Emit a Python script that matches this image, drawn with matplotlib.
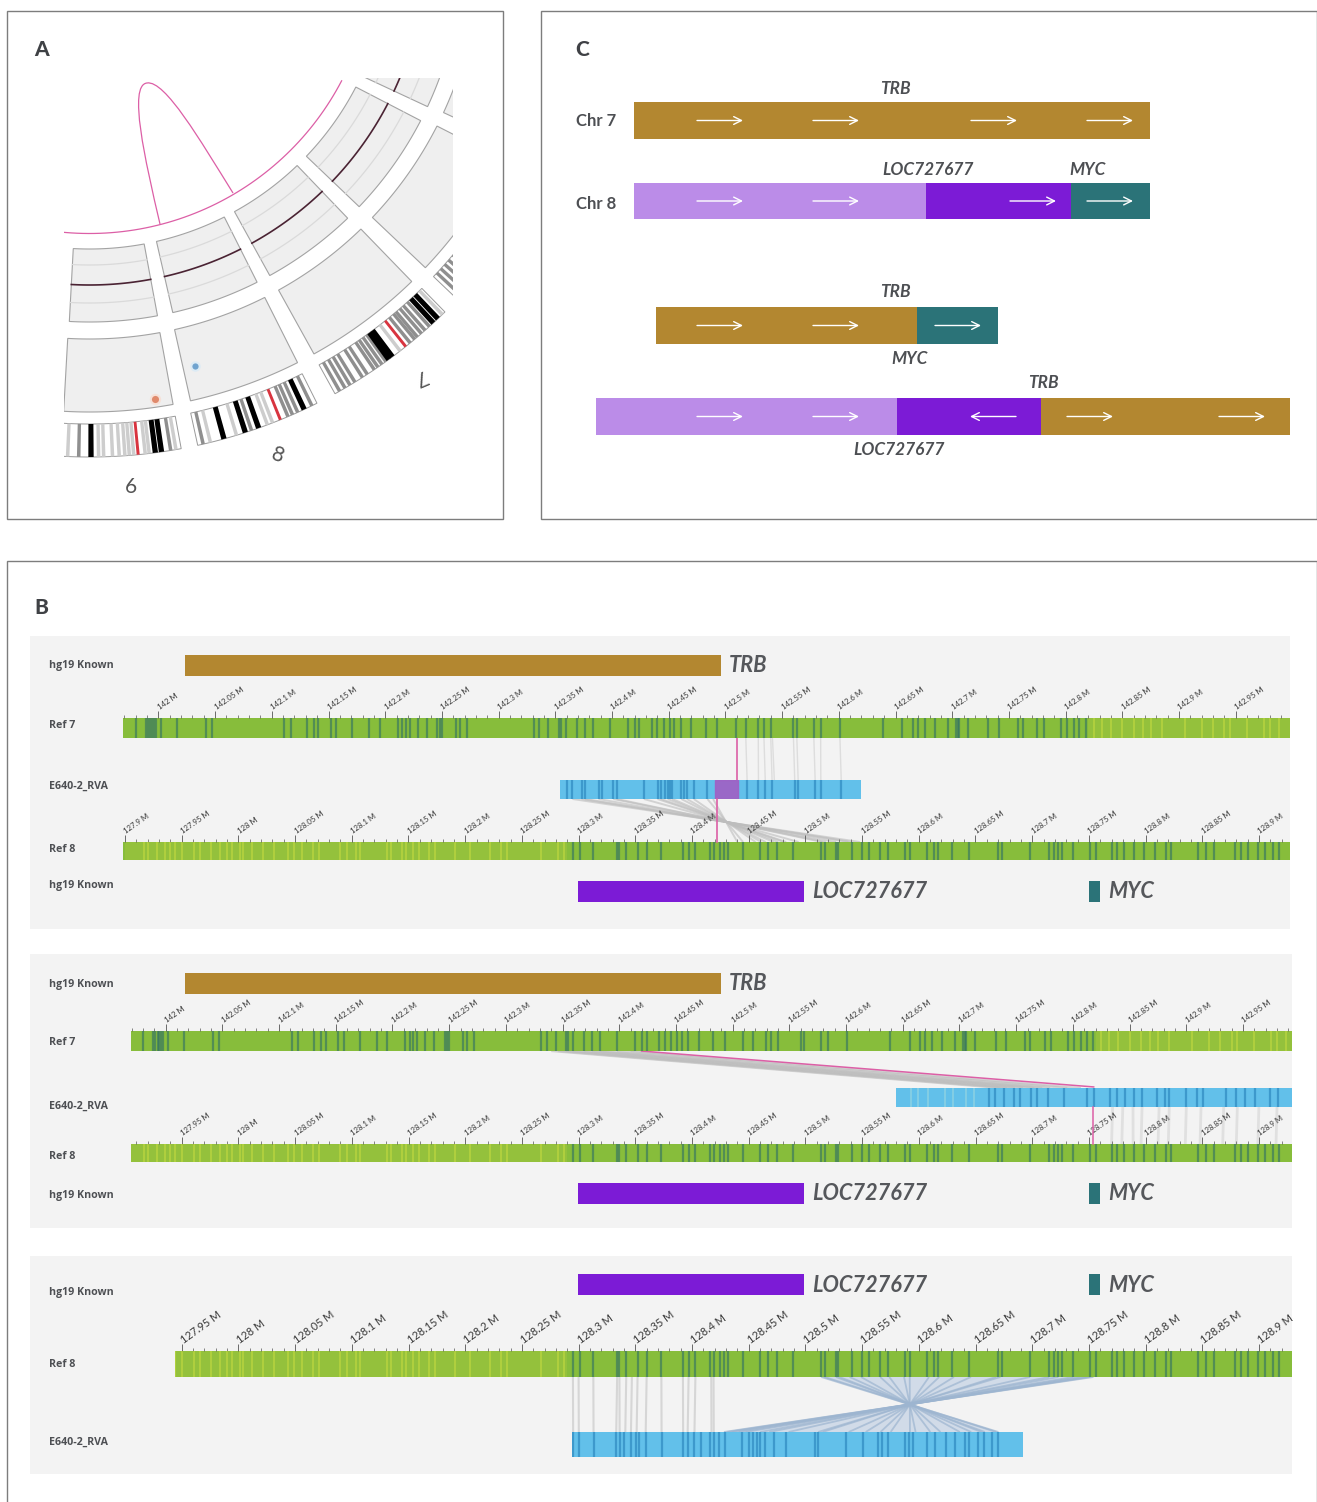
#!/usr/bin/env python3

"""
Structural variant figure: circos detail (A), alignment tracks (B), gene fusion schematic (C)
"""

import numpy as np
import matplotlib
matplotlib.use("Agg")
import matplotlib.pyplot as plt
from matplotlib.patches import Polygon, Rectangle
from matplotlib.path import Path
from matplotlib.patches import PathPatch

W, H = 1317, 1502
PX_PER_MB = 1134.0

GOLD = "#b38730"
PURPLE = "#7c1bd6"
LILAC = "#bb8ce8"
TEAL = "#2b7378"
PINK = "#dc5fa6"
TEXT = "#4d4f53"

# --- panel A: angles in degrees from straight down, around the circos centre
chr6_black = [0.17, 7.45, 8.15]
chr6_grey = [-1.22, 9.2]
chr6_light = [-2.47, 1.03, 1.6, 2.6, 3.36, 4.0, 4.5, 5.0, 6.3, 6.75, 9.8]
chr6_red = [5.5]
chr8_black = [15.35, 17.87, 19.45, 25.0]
chr8_grey = [12.93, 18.6, 23.0, 23.55, 24.2, 25.96]
chr8_light = [13.77, 16.82, 20.5, 21.13]
chr8_red = [22.07]
chr7_black = [36.1, 36.6, 42.6, 43.3]
chr7_grey = [29.5, 30.2, 30.85, 31.5, 32.5, 33.15, 34.1, 34.6, 35.15, 35.7, 39.15, 39.8, 40.2,
             40.8, 41.35, 42.0]
chr7_light = [37.7, 44.0]
chr7_red = [38.5]
chr_next_grey = [47.0, 47.7, 48.4, 49.1, 49.9, 50.7]
inner_sectors = [(-3.1, 10.5), (12.9, 26.7), (28.9, 43.8), (46.3, 62.6), (65.0, 80)]
outer_sectors = [(-3.2, 10.4), (12.6, 26.7), (29.0, 44.1), (46.5, 63.0), (65.2, 80)]

# --- panel B: genomic positions in Mb
ref7_dark = [141.980, 141.989, 141.991, 141.993, 141.994, 141.996, 141.998, 142.002, 142.016,
             142.042, 142.047, 142.111, 142.117, 142.131, 142.137, 142.141, 142.152, 142.157,
             142.171, 142.186, 142.195, 142.211, 142.215, 142.218, 142.222, 142.229, 142.237,
             142.246, 142.248, 142.250, 142.262, 142.266, 142.272, 142.331, 142.336, 142.344,
             142.353, 142.355, 142.359, 142.369, 142.376, 142.383, 142.398, 142.414, 142.420,
             142.424, 142.435, 142.440, 142.446, 142.451, 142.455, 142.461, 142.470, 142.483,
             142.493, 142.509, 142.518, 142.529, 142.534, 142.540, 142.560, 142.563, 142.578,
             142.584, 142.601, 142.639, 142.656, 142.665, 142.670, 142.676, 142.685, 142.696,
             142.703, 142.705, 142.706, 142.714, 142.732, 142.741, 142.758, 142.762, 142.775,
             142.781, 142.796, 142.801, 142.807, 142.812, 142.818]
ref7_yellow = [142.825, 142.832, 142.84, 142.85, 142.86, 142.868, 142.875, 142.885, 142.905,
               142.92, 142.93, 142.94, 142.945, 142.96, 142.975, 142.98, 142.988]
ref7_yellow_zone = [142.82, 143.0]
ref8_dark = [128.295, 128.301, 128.313, 128.334, 128.336, 128.342, 128.352, 128.360, 128.373,
             128.392, 128.397, 128.403, 128.416, 128.419, 128.425, 128.428, 128.432, 128.445,
             128.460, 128.467, 128.475, 128.489, 128.514, 128.517, 128.527, 128.529, 128.541,
             128.550, 128.556, 128.566, 128.573, 128.588, 128.592, 128.607, 128.613, 128.617,
             128.629, 128.644, 128.670, 128.673, 128.698, 128.715, 128.719, 128.723, 128.726,
             128.736, 128.751, 128.756, 128.770, 128.775, 128.781, 128.790, 128.799, 128.808,
             128.818, 128.822, 128.846, 128.853, 128.860, 128.879, 128.884, 128.890, 128.899,
             128.905, 128.912, 128.918]
ref8_yellow = [127.917, 127.920, 127.928, 127.935, 127.94, 127.944, 127.950, 127.961, 127.966,
               127.976, 127.984, 127.990, 127.994, 128.001, 128.004, 128.012, 128.022, 128.031,
               128.044, 128.049, 128.056, 128.066, 128.071, 128.090, 128.096, 128.104, 128.107,
               128.131, 128.135, 128.144, 128.148, 128.154, 128.159, 128.168, 128.173, 128.191,
               128.204, 128.222, 128.232, 128.237, 128.267, 128.282, 128.287]
ref8_yellow_zone = [127.9, 128.29]
ref7_ticks = [142, 142.05, 142.1, 142.15, 142.2, 142.25, 142.3, 142.35, 142.4, 142.45, 142.5,
              142.55, 142.6, 142.65, 142.7, 142.75, 142.8, 142.85, 142.9, 142.95]
ref8_ticks = [127.9, 127.95, 128, 128.05, 128.1, 128.15, 128.2, 128.25, 128.3, 128.35, 128.4,
              128.45, 128.5, 128.55, 128.6, 128.65, 128.7, 128.75, 128.8, 128.85, 128.9]

# contig positions in kb from the contig start
contig1_len = 265
contig1_dark = [6, 11, 19, 22, 34, 37, 47, 50, 74, 86, 89, 93, 95, 97, 99, 107, 109, 112, 118,
                130, 165, 175, 181, 187, 207, 210, 225, 230, 248]
contig2_len = 349
contig2_dark = [82, 87, 95, 104, 109, 119, 124, 134, 148, 168, 175, 189, 195, 202, 210, 217, 230,
                237, 241, 256, 265, 271, 291, 300, 308, 317, 330, 337]
contig2_yellow = [13, 19, 28, 43, 50, 62, 69]
contig3_len = 398
contig3_dark = [1, 6, 19, 39, 42, 46, 52, 56, 59, 65, 79, 98, 102, 108, 114, 122, 125, 130, 135,
                150, 156, 160, 163, 166, 170, 178, 189, 214, 217, 242, 257, 270, 273, 279, 294,
                297, 301, 313, 320, 330, 338, 347, 350, 358, 363, 370, 376]

# alignments, ref position against contig position
b1_ref7 = [142.518, 142.529, 142.534, 142.540, 142.5415, 142.560, 142.563, 142.578, 142.584, 142.601]
b1_contig_up = [165, 175, 181, 187, 189, 207, 210, 225, 230, 248]
b1_contig_inv = [11, 19, 22, 34, 47, 50, 74, 86, 89, 95, 99, 107, 112, 118, 130, 135]
b1_ref8_inv = [128.548, 128.541, 128.538, 128.527, 128.518, 128.515, 128.494, 128.483, 128.481,
               128.476, 128.472, 128.465, 128.461, 128.456, 128.445, 128.440]
b2_ref7 = [142.340, 142.346, 142.353, 142.359, 142.369, 142.376, 142.383, 142.398, 142.410]
b2_contig = [92, 98, 105, 112, 122, 129, 136, 151, 163]
b2_ref8 = [128.770, 128.779, 128.789, 128.796, 128.811, 128.820, 128.835, 128.848, 128.868,
           128.880, 128.899, 128.915]
b2_contig_down = [191, 200, 209, 217, 232, 241, 256, 269, 289, 301, 320, 336]
b3_ref8 = [128.295, 128.300, 128.313, 128.334, 128.336, 128.342, 128.347, 128.352, 128.360,
           128.373, 128.392, 128.397, 128.403, 128.417, 128.419]
b3_contig = [1, 6, 19, 39, 42, 47, 52, 57, 65, 79, 98, 102, 108, 123, 125]
b3_ref8_inv = [128.514, 128.517, 128.527, 128.530, 128.539, 128.549, 128.566, 128.574, 128.587,
               128.592, 128.609, 128.618, 128.631, 128.646, 128.668, 128.672, 128.698, 128.715,
               128.723, 128.736, 128.742, 128.748, 128.751, 128.754]
b3_contig_inv = [376, 374, 364, 361, 352, 342, 325, 316, 303, 298, 281, 272, 259, 244, 221, 217,
                 191, 174, 166, 153, 147, 141, 137, 134]

# --- panel C: segment lengths, and arrow starts
row1_lengths = [516]
row2_lengths = [292, 145, 79]
row3_lengths = [261, 81]
row4_lengths = [301, 144, 249]
row1_arrows = [697, 813, 971, 1087]
row2_arrows = [697, 813, 1010, 1087]
row3_arrows = [697, 813, 935]
row4_arrows = [697, 813, 1067, 1219]
row4_back_arrows = [1016]

plt.rcParams["font.family"] = ["Lato", "DejaVu Sans"]
fig = plt.figure(figsize=(W / 100, H / 100), dpi=100, facecolor="white")


def pixel_axes(zorder):
    ax = fig.add_axes([0, 0, 1, 1], zorder=zorder)
    ax.set_xlim(0, W)
    ax.set_ylim(H, 0)
    ax.axis("off")
    return ax


bg = pixel_axes(0)
fg = pixel_axes(5)

# panel frames
for x0, y0, x1, y1 in [(7, 11, 503, 519), (541, 11, 1317, 519), (7, 561, 1317, 1510)]:
    bg.add_patch(Rectangle((x0, y0), x1 - x0, y1 - y0, fc="white", ec="#7d7d7d", lw=1))
for x0, y0, x1, y1 in [(30, 636, 1290, 929), (30, 954, 1292, 1228), (30, 1256, 1292, 1474)]:
    bg.add_patch(Rectangle((x0, y0), x1 - x0, y1 - y0, fc="#f3f3f3", ec="none"))
for txt, x, y in [("A", 42, 49), ("C", 582, 49), ("B", 41, 608)]:
    fg.text(x, y, txt, fontsize=15, fontweight="black", color="#3f4145", ha="center", va="center")

# ---- panel A
CX, CY = 89.5, -51
clip_a = Rectangle((64, 78), 389, 380, transform=fg.transData)


def sector(t0, t1, r0, r1, **kw):
    t = np.radians(np.linspace(t0, t1, 40))
    xs = np.r_[CX + r0 * np.sin(t), CX + r1 * np.sin(t[::-1])]
    ys = np.r_[CY + r0 * np.cos(t), CY + r1 * np.cos(t[::-1])]
    p = Polygon(np.c_[xs, ys], closed=True, **kw)
    fg.add_patch(p)
    p.set_clip_path(clip_a)


def arc(t0, t1, r, **kw):
    t = np.radians(np.linspace(t0, t1, 60))
    line, = fg.plot(CX + r * np.sin(t), CY + r * np.cos(t), **kw)
    line.set_clip_path(clip_a)


for t0, t1 in inner_sectors:
    sector(t0, t1, 300, 373, fc="#efefef", ec="#a3a3a3", lw=0.8)
    arc(t0, t1, 316, color="#dadada", lw=0.9)
    arc(t0, t1, 354, color="#dadada", lw=0.9)
    arc(t0, t1, 336, color="#4a2333", lw=1.2)
for t0, t1 in outer_sectors:
    sector(t0, t1, 390, 463, fc="#efefef", ec="#a3a3a3", lw=0.8)

ideograms = [(-4, 10.4, chr6_black, chr6_grey, chr6_light, chr6_red),
             (12.3, 26.6, chr8_black, chr8_grey, chr8_light, chr8_red),
             (28.9, 44.4, chr7_black, chr7_grey, chr7_light, chr7_red),
             (46.4, 63.0, [], chr_next_grey, [], [])]
for t0, t1, black, grey, light, red in ideograms:
    sector(t0, t1, 475, 508, fc="white", ec="#9a9a9a", lw=0.7)
    for a in light:
        sector(a - 0.2, a + 0.2, 475, 508, fc="#cdcdcd", ec="none")
    for a in grey:
        sector(a - 0.2, a + 0.2, 475, 508, fc="#8f8f8f", ec="none")
    for a in black:
        sector(a - 0.3, a + 0.3, 475, 508, fc="#000000", ec="none")
    for a in red:
        sector(a - 0.17, a + 0.17, 475, 508, fc="#d8343f", ec="none")

arc(-6, 62.4, 284.5, color=PINK, lw=0.9)
loop = Path([(160, 224), (145, 160), (128, 85), (147, 83), (165, 80), (200, 140), (233, 193)],
            [Path.MOVETO, Path.CURVE4, Path.CURVE4, Path.CURVE4, Path.CURVE4, Path.CURVE4, Path.CURVE4])
fg.add_patch(PathPatch(loop, fc="none", ec=PINK, lw=0.9))

fg.scatter([155], [399], s=44, c="#e08a6c", edgecolors="#f6e1d8", linewidths=1.5)
fg.scatter([195], [366], s=36, c="#6fa3cf", edgecolors="#dcebf5", linewidths=1.5)
fg.text(131, 487, "6", fontsize=15, color="#555555", ha="center", va="center")
fg.text(278, 455, "8", fontsize=15, color="#555555", ha="center", va="center", rotation=-20)
fg.text(420, 377, "7", fontsize=15, color="#555555", ha="center", va="center", rotation=203)


# ---- panel C
def fusion_row(x0, y0, y1, lengths, colors):
    lefts = x0 + np.r_[0, np.cumsum(lengths)[:-1]]
    fg.barh((y0 + y1) / 2, lengths, height=y1 - y0, left=lefts, color=colors, align="center")


def arrows(starts, y, step=46):
    for x in starts:
        fg.annotate("", xy=(x + step, y), xytext=(x, y),
                    arrowprops=dict(arrowstyle="->", color="white", lw=1, mutation_scale=14,
                                    shrinkA=0, shrinkB=0))


fusion_row(634, 102, 139, row1_lengths, [GOLD])
fusion_row(634, 183, 219, row2_lengths, [LILAC, PURPLE, TEAL])
fusion_row(656, 307, 344, row3_lengths, [GOLD, TEAL])
fusion_row(596, 398, 435, row4_lengths, [LILAC, PURPLE, GOLD])
arrows(row1_arrows, 120.5)
arrows(row2_arrows, 201)
arrows(row3_arrows, 325.5)
arrows(row4_arrows, 416.5)
arrows(row4_back_arrows, 416.5, step=-46)

for txt, x, y in [("TRB", 895, 89), ("LOC727677", 928, 170), ("MYC", 1088, 170), ("TRB", 895, 292),
                  ("MYC", 910, 359), ("TRB", 1043, 383), ("LOC727677", 899, 450)]:
    fg.text(x, y, txt, fontsize=12.4, fontstyle="italic", fontweight="bold", color=TEXT,
            ha="center", va="center")
for txt, y in [("Chr 7", 121), ("Chr 8", 204)]:
    fg.text(596, y, txt, fontsize=12, fontweight="bold", color=TEXT, ha="center", va="center")


# ---- panel B
def track(x0, x1, y0, y1, lo, hi, color="#87bd3b", dark=(), yellow=(), dark_color="#2f6f66",
          yellow_color="#c6dc40", zone=None, ticks=None, size=5.6, angle=35):
    ax = fig.add_axes([x0 / W, 1 - y1 / H, (x1 - x0) / W, (y1 - y0) / H], zorder=2)
    ax.set_facecolor(color)
    if zone:
        ax.axvspan(zone[0], zone[1], color="#94c13c", lw=0)
    ax.set_xlim(lo, hi)
    ax.set_ylim(0, 1)
    ax.set_yticks([])
    for s in ax.spines.values():
        s.set_visible(False)
    ax.vlines(yellow, 0, 1, color=yellow_color, lw=1.2, alpha=0.65)
    ax.vlines(dark, 0, 1, color=dark_color, lw=1.6, alpha=0.6)
    if ticks is None:
        ax.set_xticks([])
    else:
        shown = [t for t in ticks if lo <= t <= hi]
        ax.xaxis.tick_top()
        ax.set_xticks(shown)
        ax.set_xticklabels([f"{t:g} M" for t in shown], rotation=angle, ha="left", va="center",
                           rotation_mode="anchor", fontsize=size, color="#444444",
                           fontweight="medium")
        ax.set_xticks(np.arange(np.ceil(lo * 100), hi * 100) / 100, minor=True)
        ax.tick_params(axis="x", which="major", length=5, width=0.6, color="#555555", pad=2)
        ax.tick_params(axis="x", which="minor", length=2, width=0.5, color="#555555", top=True)
    return ax


def ref7_x(m, px0):
    return px0 + PX_PER_MB * (np.asarray(m) - 142)


def ref8_x(m):
    return 125 + PX_PER_MB * (np.asarray(m) - 127.9)


def contig_x(kb, x0):
    return x0 + np.asarray(kb) * PX_PER_MB / 1000


def links(xa, ya, xb, yb, color="#b9b9b9", lw=1, alpha=0.7):
    for a, b in zip(xa, xb):
        bg.plot([a, b], [ya, yb], color=color, lw=lw, alpha=alpha, solid_capstyle="butt")


def gene(x0, x1, y0, y1, color, name=None):
    fg.add_patch(Rectangle((x0, y0), x1 - x0, y1 - y0, fc=color, ec="none"))
    if name:
        fg.text(x1 + 8, (y0 + y1) / 2 + 0.5, name, fontsize=15.7, fontstyle="italic", color="#55575b",
                ha="left", va="center", fontweight="bold")


def row_label(y, txt):
    fg.text(49, y + 0.5, txt, fontsize=7.7, fontweight="bold", color=TEXT, ha="left", va="center",
            family=["Open Sans", "DejaVu Sans"])


def ref7_track(x0, x1, y0, y1, px0):
    return track(x0, x1, y0, y1, 142 + (x0 - px0) / PX_PER_MB, 142 + (x1 - px0) / PX_PER_MB,
                 dark=ref7_dark, yellow=ref7_yellow, zone=ref7_yellow_zone, ticks=ref7_ticks)


def ref8_track(x0, x1, y0, y1, **kw):
    return track(x0, x1, y0, y1, 127.9 + (x0 - 125) / PX_PER_MB, 127.9 + (x1 - 125) / PX_PER_MB,
                 dark=ref8_dark, yellow=ref8_yellow, zone=ref8_yellow_zone, ticks=ref8_ticks, **kw)


def contig_track(x0, y0, y1, length, dark, yellow=()):
    x1 = x0 + length * PX_PER_MB / 1000
    return track(x0, x1, y0, y1, 0, length, color="#62c0ea", dark=dark, yellow=yellow,
                 dark_color="#2580b8", yellow_color="#9ed8e0")


# first block
gene(185, 721, 655, 676, GOLD, "TRB")
ref7_track(123, 1290, 718, 738, 158.4)
ax = contig_track(560, 780, 799, contig1_len, contig1_dark)
ax.axvspan(137, 157, color="#a15fc4", alpha=0.9)
ref8_track(123, 1290, 842, 860)
gene(578, 804, 881, 902, PURPLE, "LOC727677")
gene(1089, 1100, 881, 902, TEAL, "MYC")
links(ref7_x(b1_ref7, 158.4), 738, contig_x(b1_contig_up, 560), 780, color="#d4d4d4", lw=1)
links(contig_x(b1_contig_inv, 560), 799, ref8_x(b1_ref8_inv), 842, color="#bdbdbd", lw=1.4, alpha=0.6)
links([737], 738, [737], 780, color=PINK, lw=1.2, alpha=1)
fg.plot([717, 717], [799, 842], color=PINK, lw=1.2)
for y, txt in [(665, "hg19 Known"), (725, "Ref 7"), (786, "E640-2_RVA"), (849, "Ref 8"), (885, "hg19 Known")]:
    row_label(y, txt)

# second block
gene(185, 721, 973, 994, GOLD, "TRB")
ref7_track(131, 1292, 1031, 1051, 165.7)
contig_track(896, 1088, 1107, contig2_len, contig2_dark, contig2_yellow)
ref8_track(131, 1292, 1144, 1162)
gene(578, 804, 1183, 1204, PURPLE, "LOC727677")
gene(1089, 1100, 1183, 1204, TEAL, "MYC")
links(ref7_x(b2_ref7, 165.7), 1051, contig_x(b2_contig, 896), 1088, color="#bcbcbc", lw=1.6, alpha=0.6)
links(ref7_x([142.419], 165.7), 1051, contig_x([175], 896), 1087, color=PINK, lw=1.1, alpha=1)
links(ref8_x(b2_ref8), 1144, contig_x(b2_contig_down, 896), 1107, color="#dcdcdc", lw=2, alpha=0.8)
fg.plot([1093, 1093], [1107, 1144], color=PINK, lw=1.1)
for y, txt in [(984, "hg19 Known"), (1042, "Ref 7"), (1106, "E640-2_RVA"), (1156, "Ref 8"), (1195, "hg19 Known")]:
    row_label(y, txt)

# third block
gene(578, 804, 1274, 1295, PURPLE, "LOC727677")
gene(1089, 1100, 1274, 1295, TEAL, "MYC")
ref8_track(175, 1292, 1351, 1377, size=7.8, angle=36)
contig_track(572, 1432, 1457, contig3_len, contig3_dark)
links(ref8_x(b3_ref8), 1377, contig_x(b3_contig, 572), 1432, color="#d3d3d3", lw=1.5, alpha=0.9)
top_x = ref8_x(b3_ref8_inv)
low_x = contig_x(b3_contig_inv, 572)
bg.add_patch(Polygon([(top_x[0], 1377), (top_x[-1], 1377), (low_x[-1], 1432), (low_x[0], 1432)],
                     closed=True, fc="#b6c9df", ec="none", alpha=0.55))
links(top_x, 1377, low_x, 1432, color="#9db5d0", lw=1.3, alpha=0.7)
for y, txt in [(1292, "hg19 Known"), (1364, "Ref 8"), (1442, "E640-2_RVA")]:
    row_label(y, txt)

fig.savefig("out.png", dpi=100)
